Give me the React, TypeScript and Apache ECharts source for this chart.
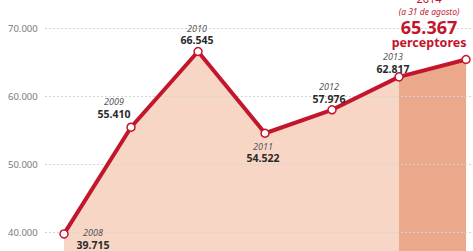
import React, { useEffect, useRef } from "react";
import * as echarts from "echarts";

const years = [2008, 2009, 2010, 2011, 2012, 2013, 2014];
const perceptores = [39715, 55410, 66545, 54522, 57976, 62817, 65367];
const yTicks = [30000, 40000, 50000, 60000, 70000];
const highlightFrom = 2013;

const fmt = (v: number) => v.toLocaleString("de-DE");

const labelOffsets: Record<number, [number, number]> = {
  2008: [29, 5],
  2009: [-17, -19],
  2010: [-1, -17],
  2011: [-2, 19],
  2012: [-3, -17],
  2013: [-6, -14],
  2014: [-37, -39],
};

export default function App() {
  const ref = useRef<HTMLDivElement>(null);
  useEffect(() => {
    if (!ref.current) return;
    const chart = echarts.init(ref.current, null, { renderer: "svg" });
    const red = "#c3162d";
    const mainData = years.map((y, i) => {
      const last = i === years.length - 1;
      return {
        value: [y, perceptores[i]],
        label: last
          ? {
              show: true,
              position: "inside",
              offset: labelOffsets[y],
              align: "center",
              formatter: () =>
                `{ry|${y}}\n{rs|(a 31 de agosto)}\n{rb|${fmt(perceptores[i])}}\n{rp|perceptores}`,
            }
          : {
              show: true,
              position: "inside",
              offset: labelOffsets[y],
              align: "center",
              formatter: () => `{y|${y}}\n{v|${fmt(perceptores[i])}}`,
            },
      };
    });
    const hiData = years.map((y, i) => [y, y >= highlightFrom ? perceptores[i] : null]);
    chart.setOption({
      animation: false,
      textStyle: { fontFamily: "Noto Sans" },
      grid: { left: 45, right: 0, top: 28, height: 272, outerBoundsMode: "none", containLabel: false },
      xAxis: {
        type: "value",
        min: 2007.716,
        max: 2014.104,
        show: false,
      },
      yAxis: {
        type: "value",
        min: yTicks[0],
        max: yTicks[yTicks.length - 1],
        interval: 10000,
        z: 3,
        axisLine: { show: false },
        axisTick: { show: false },
        axisLabel: {
          align: "left",
          margin: 37,
          color: "#7a7a7a",
          fontSize: 9.5,
          fontFamily: "Noto Sans",
          showMinLabel: false,
          formatter: (v: number) => fmt(v),
        },
        splitLine: { lineStyle: { color: "#d4d4d4", type: [2, 2], width: 1 } },
      },
      series: [
        {
          type: "line",
          data: years.map((y, i) => [y, perceptores[i]]),
          symbol: "none",
          lineStyle: { width: 0 },
          areaStyle: { color: "#f8d6c6", opacity: 1 },
          z: 1,
          silent: true,
        },
        {
          type: "line",
          data: hiData,
          symbol: "none",
          lineStyle: { width: 0 },
          areaStyle: { color: "#eca88b", opacity: 1 },
          z: 1,
          silent: true,
        },
        {
          type: "line",
          data: mainData,
          symbol: "circle",
          symbolSize: 8,
          itemStyle: { color: "#ffffff", borderColor: red, borderWidth: 1.5 },
          lineStyle: { color: red, width: 4 },
          z: 5,
          label: {
            show: true,
            rich: {
              y: { fontSize: 9, fontStyle: "italic", color: "#555", lineHeight: 11.5, fontFamily: "Noto Sans", align: "center" },
              v: { fontSize: 10.5, fontWeight: "bold", color: "#2a2a2a", lineHeight: 12.5, fontFamily: "Noto Sans", align: "center" },
              ry: { fontSize: 11, color: red, lineHeight: 13, fontFamily: "Noto Sans", align: "center" },
              rs: { fontSize: 8.5, fontStyle: "italic", color: red, lineHeight: 13, fontFamily: "Noto Sans", align: "center" },
              rb: { fontSize: 18, fontWeight: "bold", color: red, lineHeight: 18, fontFamily: "Noto Sans", align: "center" },
              rp: { fontSize: 12.5, fontWeight: "bold", color: red, lineHeight: 13, fontFamily: "Noto Sans", align: "center" },
            },
          },
        },
      ],
    });
    return () => chart.dispose();
  }, []);
  return (
    <div
      ref={ref}
      style={{ position: "absolute", left: 0, top: 0, width: 473, height: 251, background: "#fff" }}
    />
  );
}
